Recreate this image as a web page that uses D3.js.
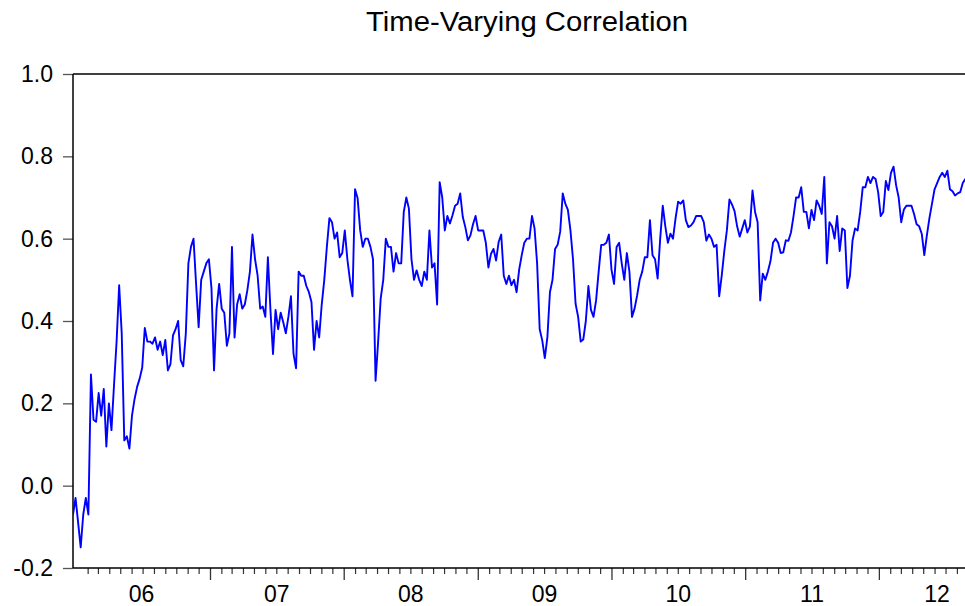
<!DOCTYPE html>
<html>
<head>
<meta charset="utf-8">
<script src="https://cdn.jsdelivr.net/npm/d3@7"></script>
<style>
  body { margin: 0; background: #fff; }
  text { font-family: "Liberation Sans", Arial, sans-serif; }
</style>
</head>
<body>
<div class="chart"></div>
<script>
// weekly observations, first one on the start date
var startDate = '2005-12-23';
var endDate = '2012-11-13';

var correlation = [
  -0.07, -0.03, -0.09, -0.15, -0.07, -0.03, -0.07, 0.27, 0.16, 0.155,
  0.225, 0.17, 0.235, 0.095, 0.2, 0.135, 0.245, 0.35, 0.487, 0.37,
  0.11, 0.12, 0.09, 0.17, 0.21, 0.24, 0.26, 0.287, 0.383, 0.35,
  0.35, 0.345, 0.36, 0.33, 0.35, 0.317, 0.354, 0.28, 0.295, 0.365,
  0.38, 0.4, 0.305, 0.29, 0.37, 0.54, 0.58, 0.6, 0.49, 0.385,
  0.5, 0.52, 0.54, 0.55, 0.48, 0.28, 0.43, 0.49, 0.43, 0.42,
  0.34, 0.37, 0.58, 0.36, 0.44, 0.465, 0.43, 0.44, 0.475, 0.52,
  0.61, 0.55, 0.51, 0.43, 0.435, 0.41, 0.555, 0.427, 0.32, 0.427,
  0.38, 0.42, 0.397, 0.37, 0.41, 0.46, 0.32, 0.285, 0.52, 0.51,
  0.51, 0.485, 0.47, 0.446, 0.33, 0.40, 0.36, 0.44, 0.50, 0.58,
  0.65, 0.64, 0.6, 0.615, 0.555, 0.565, 0.62, 0.55, 0.50, 0.46,
  0.72, 0.698, 0.62, 0.58, 0.60, 0.60, 0.58, 0.55, 0.255, 0.35,
  0.455, 0.50, 0.60, 0.58, 0.58, 0.52, 0.565, 0.54, 0.54, 0.665,
  0.70, 0.673, 0.55, 0.50, 0.523, 0.50, 0.485, 0.52, 0.50, 0.62,
  0.53, 0.54, 0.44, 0.737, 0.70, 0.62, 0.655, 0.637, 0.657, 0.68,
  0.685, 0.71, 0.653, 0.628, 0.596, 0.608, 0.635, 0.655, 0.62, 0.62,
  0.62, 0.59, 0.53, 0.563, 0.575, 0.547, 0.592, 0.61, 0.51, 0.49,
  0.51, 0.487, 0.50, 0.47, 0.525, 0.56, 0.59, 0.60, 0.60, 0.655,
  0.625, 0.54, 0.38, 0.353, 0.31, 0.36, 0.47, 0.50, 0.575, 0.585,
  0.617, 0.71, 0.685, 0.67, 0.62, 0.55, 0.442, 0.41, 0.35, 0.355,
  0.40, 0.485, 0.427, 0.41, 0.45, 0.52, 0.585, 0.585, 0.59, 0.61,
  0.525, 0.49, 0.58, 0.59, 0.54, 0.50, 0.565, 0.52, 0.41, 0.43,
  0.462, 0.50, 0.52, 0.555, 0.555, 0.645, 0.56, 0.55, 0.503, 0.60,
  0.68, 0.63, 0.59, 0.612, 0.6, 0.65, 0.69, 0.685, 0.693, 0.645,
  0.628, 0.632, 0.64, 0.655, 0.655, 0.655, 0.64, 0.595, 0.61, 0.60,
  0.58, 0.585, 0.46, 0.51, 0.57, 0.62, 0.695, 0.683, 0.667, 0.63,
  0.605, 0.625, 0.645, 0.615, 0.63, 0.717, 0.665, 0.64, 0.45, 0.515,
  0.50, 0.52, 0.545, 0.59, 0.60, 0.59, 0.565, 0.567, 0.596, 0.595,
  0.615, 0.655, 0.70, 0.70, 0.725, 0.665, 0.665, 0.625, 0.67, 0.645,
  0.693, 0.68, 0.66, 0.75, 0.54, 0.64, 0.63, 0.60, 0.655, 0.57,
  0.625, 0.62, 0.48, 0.51, 0.595, 0.625, 0.62, 0.665, 0.725, 0.725,
  0.75, 0.735, 0.75, 0.745, 0.713, 0.655, 0.665, 0.74, 0.718, 0.76,
  0.775, 0.73, 0.70, 0.64, 0.67, 0.68, 0.68, 0.68, 0.66, 0.635,
  0.63, 0.612, 0.56, 0.608, 0.65, 0.685, 0.72, 0.735, 0.75, 0.76,
  0.75, 0.765, 0.72, 0.715, 0.705, 0.71, 0.713, 0.735, 0.745, 0.75
];

var yTicks = [-0.2, 0.0, 0.2, 0.4, 0.6, 0.8, 1.0];
var yearLabels = ['06', '07', '08', '09', '10', '11', '12'];

var width = 965, height = 606;
var plotLeft = 73, plotRight = 995, plotTop = 74, plotBottom = 568;

var svg = d3.select('.chart').append('svg')
  .attr('width', width)
  .attr('height', height);

var parse = d3.timeParse('%Y-%m-%d');
var t0 = parse(startDate), t1 = parse(endDate);

var points = correlation.map(function(v, i) {
  return { date: d3.timeDay.offset(t0, 7 * i), value: v };
});

var x = d3.scaleTime().domain([t0, t1]).range([plotLeft, plotRight]);
var y = d3.scaleLinear().domain([-0.2, 1.0]).range([plotBottom, plotTop]);

// title (the source picture is a little stretched sideways)
svg.append('text')
  .attr('x', 527)
  .attr('y', 31)
  .attr('text-anchor', 'middle')
  .attr('font-size', 27)
  .attr('textLength', 322)
  .attr('lengthAdjust', 'spacingAndGlyphs')
  .text('Time-Varying Correlation');

svg.append('clipPath').attr('id', 'plot')
  .append('rect')
  .attr('x', plotLeft).attr('y', plotTop - 2)
  .attr('width', plotRight - plotLeft).attr('height', plotBottom - plotTop + 4);

// y axis
var yAxis = svg.append('g')
  .attr('transform', 'translate(' + plotLeft + ',0)')
  .call(d3.axisLeft(y).tickValues(yTicks).tickSize(10).tickPadding(10)
    .tickFormat(function(d) { return d.toFixed(1); }));
yAxis.select('.domain').remove();
yAxis.selectAll('line').attr('stroke', '#555').attr('stroke-width', 1.3);
yAxis.selectAll('text').attr('font-size', 23).attr('fill', '#000')
  .attr('font-family', '"Liberation Sans", Arial, sans-serif');

// x axis: months (minor) and years (major)
var years = d3.timeYear.range(d3.timeYear.ceil(t0), t1);
var months = d3.timeMonth.range(parse('2006-02-01'), t1)
  .filter(function(d) { return d.getMonth() !== 0; });

var minor = svg.append('g')
  .attr('transform', 'translate(0,' + plotBottom + ')')
  .call(d3.axisBottom(x).tickValues(months).tickSize(6).tickFormat(''));
minor.select('.domain').remove();
minor.selectAll('line').attr('stroke', '#333').attr('stroke-width', 1.2);

var major = svg.append('g')
  .attr('transform', 'translate(0,' + plotBottom + ')')
  .call(d3.axisBottom(x).tickValues(years.slice(1)).tickSize(12).tickFormat(''));
major.select('.domain').remove();
major.selectAll('line').attr('stroke', '#333').attr('stroke-width', 1.3);

// year labels centred on the part of each year inside the plot
svg.selectAll('.year')
  .data(yearLabels)
  .enter()
  .append('text')
  .attr('class', 'year')
  .attr('x', function(d, i) {
    var a = x(i === 0 ? t0 : years[i]);
    var b = i + 1 < years.length ? x(years[i + 1]) : plotRight;
    return (a + b) / 2;
  })
  .attr('y', 602)
  .attr('text-anchor', 'middle')
  .attr('font-size', 23)
  .text(function(d) { return d; });

// frame
svg.append('line').attr('x1', plotLeft).attr('x2', plotRight).attr('y1', plotTop).attr('y2', plotTop)
  .attr('stroke', '#000').attr('stroke-width', 1.5);
svg.append('line').attr('x1', plotLeft).attr('x2', plotRight).attr('y1', plotBottom).attr('y2', plotBottom)
  .attr('stroke', '#000').attr('stroke-width', 1.5);
svg.append('line').attr('x1', plotLeft).attr('x2', plotLeft).attr('y1', plotTop).attr('y2', plotBottom)
  .attr('stroke', '#000').attr('stroke-width', 1.5);

// the series
var line = d3.line()
  .x(function(d) { return x(d.date); })
  .y(function(d) { return y(d.value); });

svg.append('path')
  .datum(points)
  .attr('clip-path', 'url(#plot)')
  .attr('fill', 'none')
  .attr('stroke', '#0000ff')
  .attr('stroke-width', 1.9)
  .attr('stroke-linejoin', 'round')
  .attr('d', line);
</script>
</body>
</html>
